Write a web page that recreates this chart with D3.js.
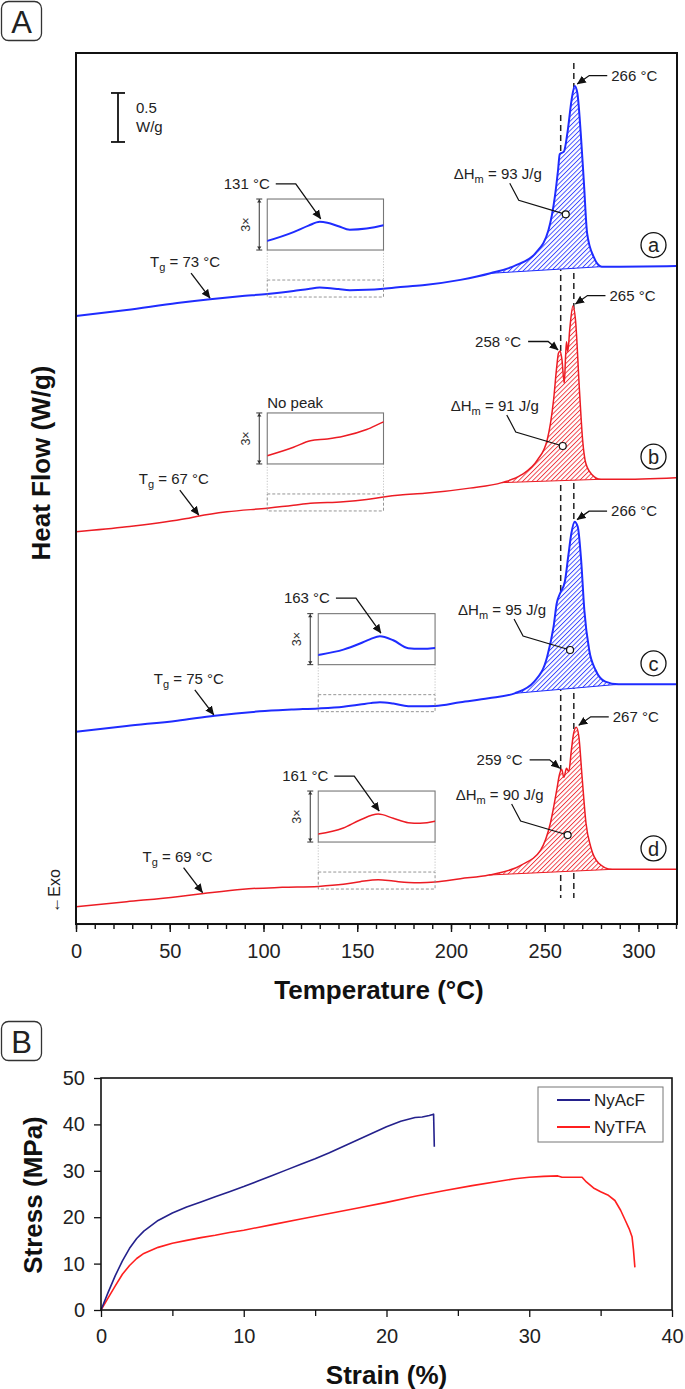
<!DOCTYPE html>
<html><head><meta charset="utf-8">
<script src="https://cdn.jsdelivr.net/npm/d3@7"></script>
<style>body{margin:0;background:#fff}svg{display:block;font-family:"Liberation Sans",Arial,Helvetica,sans-serif}</style>
</head><body><svg id="c" width="685" height="1389"></svg>
<script>
// ---------------- Panel A data (Temperature °C, Heat flow W/g, offset curves) ----------------
const curveA = [[0,6.316],[27,6.378],[54,6.449],[71.5,6.488],[87.5,6.518],[102,6.541],[116,6.571],[124,6.593],[130,6.606],[134,6.603],[140,6.591],[146,6.579],[155,6.583],[164,6.594],[175,6.615],[186,6.633],[205,6.685],[221,6.752],[235,6.837],[245,6.956],[252,7.194],[255.4,7.534],[257.1,7.806],[258,7.969],[260.2,7.993],[262.3,8.214],[264.3,8.520],[266,8.663],[267.4,8.589],[269.2,8.18],[270.9,7.670],[272.6,7.16],[276.1,6.92],[280.4,6.82],[290,6.82],[320,6.826]];
const curveB = [[0,4.115],[27,4.166],[59,4.250],[65,4.273],[80.5,4.318],[102,4.355],[116,4.384],[125,4.406],[134,4.412],[142.6,4.421],[155,4.444],[164,4.47],[173,4.49],[186,4.507],[210,4.56],[227.1,4.616],[237.5,4.694],[246.1,4.847],[251.3,5.051],[254.7,5.459],[256.4,5.799],[257.3,5.936],[258.2,5.959],[259.2,5.867],[260.4,5.630],[261.1,5.901],[261.6,6.054],[262.3,5.952],[263.3,6.173],[265.05,6.418],[266.4,6.276],[268.5,5.561],[270.2,5.051],[271.9,4.813],[275.4,4.694],[279.7,4.650],[289,4.650],[320,4.667]];
const curveC = [[0,2.074],[27,2.133],[54,2.187],[74,2.238],[98,2.282],[115,2.300],[129.2,2.312],[142.6,2.330],[151.5,2.351],[157,2.366],[162.1,2.376],[169.2,2.362],[177.2,2.335],[183.5,2.333],[191.5,2.336],[205,2.375],[220,2.415],[234,2.466],[244.4,2.585],[251.3,2.840],[254.7,3.146],[256.4,3.385],[258.2,3.487],[260.7,3.605],[262.5,3.860],[264.2,4.099],[265.9,4.218],[267.6,4.166],[269.4,3.827],[271.1,3.316],[273.7,2.908],[277.1,2.704],[282.3,2.585],[289.2,2.558],[320,2.558]];
const curveD = [[0,0.289],[27,0.340],[54,0.391],[68,0.424],[89,0.468],[110,0.486],[129.2,0.496],[142.6,0.517],[151.5,0.544],[161.2,0.564],[169.2,0.550],[177.2,0.535],[183.5,0.533],[191.5,0.540],[205,0.575],[220.2,0.612],[237.5,0.714],[247.8,0.867],[253,1.140],[256.4,1.480],[257.8,1.633],[259,1.691],[260.2,1.609],[261.6,1.701],[262.8,1.667],[264.2,1.888],[265.4,2.058],[266.8,2.119],[268.2,2.023],[269.9,1.615],[272,1.140],[274.5,0.901],[278.8,0.732],[285.7,0.670],[320,0.670]];

const curveLetters = ['a','b','c','d'];
const meltPeakLabels = [266,265,266,267];
const secondPeakLabels = [null,258,null,259];
const enthalpyValues = [93,91,95,90];
const enthalpyMarkT = [261.2,259.6,263.5,262.2];
const enthalpyMarkV = [7.354,4.99,2.908,1.020];
const tgValues = [73,67,75,69];
const coldPeakLabels = [131,null,163,161];
const hatchStartT = [221,227.1,234,220.2];
const hatchEndT = [280.4,279.7,289.2,285.7];
const insetLoT = [102,102,129.2,129.2];
const insetHiT = [164,164,191.5,191.5];
const insetLoV = [6.510,4.327,2.279,0.469];
const refLineT = [258.5,265.5];
const refLineTopV = [8.367,8.898];
const refLineBotV = 0.378;
const tempTicks = [0,50,100,150,200,250,300];
const scaleBarV = [8.592,8.092]; // 0.5 W/g
const scaleBarT = 22.4;

// ---------------- Panel B data (Strain %, Stress MPa) ----------------
const strainAcF = [0,0.5,1,1.5,2,2.5,3,4,5,6,7,8,9,10,11,12,13,14,15,16,17,18,19,20,21,22,22.5,23,23.3,23.35];
const stressAcF = [0,3.8,7.4,10.6,13.3,15.4,17.0,19.3,20.9,22.2,23.3,24.4,25.5,26.6,27.8,29.0,30.2,31.4,32.6,33.9,35.3,36.7,38.1,39.5,40.7,41.5,41.6,41.9,42.2,35.2];
const strainTFA = [0,0.5,1,1.5,2,2.5,3,4,5,6,7,8,9,10,12,14,16,18,20,22,24,26,28,29,30,31,32,32.3,33,33.7,34,34.5,35,35.5,36,36.4,36.7,37,37.2,37.3,37.4];
const stressTFA = [0,2.6,5.2,7.7,9.6,11.1,12.2,13.5,14.4,15.0,15.6,16.1,16.7,17.2,18.4,19.6,20.8,22.0,23.2,24.5,25.7,26.8,27.8,28.3,28.6,28.8,28.9,28.6,28.6,28.6,27.6,26.3,25.5,24.8,23.6,21.5,19.5,17.5,15.8,13.0,9.2];
const strainTicks = [0,10,20,30,40];
const strainMinor = [5,15,25,35];
const stressTicks = [0,10,20,30,40,50];
const seriesNamesB = ['NyAcF','NyTFA'];

// ---------------- drawing ----------------
const BLUE='#1f2cff', RED='#ec1c24', NAVY='#24218c', REDB='#ff1f1f';
const curveColors=[BLUE,RED,BLUE,RED];
const curveWidths=[2,1.5,2,1.5];
const curvesData=[curveA,curveB,curveC,curveD];
const FONT='"Liberation Sans",Arial,Helvetica,sans-serif';

const svg=d3.select('#c');
const defs=svg.append('defs');
defs.append('marker').attr('id','arr').attr('viewBox','0 0 10 10').attr('refX',9.5).attr('refY',5)
  .attr('markerWidth',9).attr('markerHeight',9).attr('markerUnits','userSpaceOnUse').attr('orient','auto')
  .append('path').attr('d','M0,0.5 L10,5 L0,9.5 z').attr('fill','#111');
[['hB',BLUE],['hR',RED]].forEach(([id,c])=>{
  const p=defs.append('pattern').attr('id',id).attr('patternUnits','userSpaceOnUse').attr('width',3.3).attr('height',3.3).attr('patternTransform','rotate(45)');
  p.append('rect').attr('width',3.3).attr('height',3.3).attr('fill','#fff');
  p.append('line').attr('x1',0.5).attr('y1',0).attr('x2',0.5).attr('y2',3.3).attr('stroke',c).attr('stroke-width',0.8);
});

function valueAt(data,t){
  for(let i=1;i<data.length;i++){ if(t<=data[i][0]){const a=data[i-1],b=data[i];return a[1]+(b[1]-a[1])*(t-a[0])/(b[0]-a[0]);} }
  return data[data.length-1][1];
}
function maxIn(data,lo,hi){ let best=null; data.forEach(d=>{ if(d[0]>=lo&&d[0]<=hi&&(!best||d[1]>best[1])) best=d; }); return best; }

// Panel labels
function panelLabel(y,txt){
  svg.append('rect').attr('x',1.5).attr('y',y).attr('width',40).attr('height',39).attr('rx',7).attr('fill','#fff').attr('stroke','#333').attr('stroke-width',1.3);
  svg.append('text').attr('x',21.5).attr('y',y+31).attr('text-anchor','middle').attr('font-size',31).attr('fill','#222').text(txt);
}
panelLabel(1.5,'A');
panelLabel(1021.5,'B');

// ===== Panel A =====
const xA=d3.scaleLinear().domain([0,320]).range([76,676]);
const yA=d3.scaleLinear().domain([0,9]).range([935,53]);
const A=svg.append('g');
const frameBottom=yA(0.112);

refLineT.forEach((t,i)=>{
  A.append('line').attr('x1',xA(t)).attr('x2',xA(t)).attr('y1',yA(refLineTopV[i])).attr('y2',yA(refLineBotV))
   .attr('stroke','#222').attr('stroke-width',1.5).attr('stroke-dasharray','6,4');
});

const lineA=d3.line().x(d=>xA(d[0])).y(d=>yA(d[1])).curve(d3.curveMonotoneX);

curvesData.forEach((data,i)=>{
  const col=curveColors[i];
  const h0=hatchStartT[i],h1=hatchEndT[i];
  const v0=valueAt(data,h0),v1=valueAt(data,h1);
  const base=t=>v0+(v1-v0)*(t-h0)/(h1-h0);
  const sub=data.filter(d=>d[0]>=h0&&d[0]<=h1);
  const area=d3.area().x(d=>xA(d[0])).y0(d=>yA(base(d[0]))).y1(d=>yA(d[1])).curve(d3.curveMonotoneX);
  A.append('path').attr('d',area(sub)).attr('fill','#fff');
  A.append('path').attr('d',area(sub)).attr('fill',`url(#${col===BLUE?'hB':'hR'})`);
  A.append('line').attr('x1',xA(h0)).attr('y1',yA(v0)).attr('x2',xA(h1)).attr('y2',yA(v1)).attr('stroke',col).attr('stroke-width',1);
  A.append('path').attr('d',lineA(data)).attr('fill','none').attr('stroke',col).attr('stroke-width',curveWidths[i]).attr('stroke-linejoin','round');

  // ---- inset ----
  const lo=insetLoT[i],hi=insetHiT[i],vlo=insetLoV[i];
  const boxH=17;
  const x0=xA(lo),x1=xA(hi);
  const dBot=yA(vlo),dTop=dBot-boxH;
  const iBot=dTop-30,iTop=iBot-boxH*3;
  A.append('rect').attr('x',x0).attr('y',dTop).attr('width',x1-x0).attr('height',boxH).attr('fill','none').attr('stroke','#8a8a8a').attr('stroke-width',0.9).attr('stroke-dasharray','3,2');
  [x0,x1].forEach(x=>A.append('line').attr('x1',x).attr('x2',x).attr('y1',iBot).attr('y2',dTop).attr('stroke','#b5b5b5').attr('stroke-width',0.8).attr('stroke-dasharray','1.2,1.6'));
  A.append('rect').attr('x',x0).attr('y',iTop).attr('width',x1-x0).attr('height',iBot-iTop).attr('fill','#fff').attr('stroke','#777').attr('stroke-width',1.1);
  const yI=d3.scaleLinear().domain([vlo,vlo+boxH/98]).range([iBot,iBot-boxH*3]);
  const cid='clip'+i;
  defs.append('clipPath').attr('id',cid).append('rect').attr('x',x0).attr('y',iTop).attr('width',x1-x0).attr('height',iBot-iTop);
  const lineI=d3.line().x(d=>xA(d[0])).y(d=>yI(d[1])).curve(d3.curveMonotoneX);
  A.append('path').attr('d',lineI(data.filter(d=>d[0]>=lo-20&&d[0]<=hi+20))).attr('clip-path',`url(#${cid})`)
    .attr('fill','none').attr('stroke',col).attr('stroke-width',curveWidths[i]);
  const bx=x0-8;
  A.append('line').attr('x1',bx).attr('x2',bx).attr('y1',iTop).attr('y2',iBot).attr('stroke','#333').attr('stroke-width',1);
  [iTop,iBot].forEach((y,k)=>{
    A.append('line').attr('x1',bx-3).attr('x2',bx+3).attr('y1',y).attr('y2',y).attr('stroke','#333').attr('stroke-width',1);
    const s=k===0?1:-1;
    A.append('path').attr('d',`M${bx-2.2},${y+s*3.5} L${bx},${y+s*0.5} L${bx+2.2},${y+s*3.5} Z`).attr('fill','#333');
  });
  A.append('text').attr('transform',`translate(${bx-9},${(iTop+iBot)/2}) rotate(-90)`).attr('text-anchor','middle')
    .attr('font-size',12.5).attr('fill','#333').text('3×');
  if(coldPeakLabels[i]!==null){
    const pk=maxIn(data,lo,hi);
    const px=xA(pk[0]),py=yI(pk[1]);
    const tip=[px+1,py-3];
    A.append('path').attr('d',`M${px-44},${py-38} L${px-24},${py-38} L${tip[0]},${tip[1]}`).attr('fill','none').attr('stroke','#111').attr('stroke-width',1.3).attr('marker-end','url(#arr)');
    A.append('text').attr('x',px-50).attr('y',py-38).attr('dy','0.35em').attr('text-anchor','end').attr('font-size',15).attr('fill','#222').text(coldPeakLabels[i]+' °C');
  } else {
    A.append('text').attr('x',x0).attr('y',iTop-5).attr('font-size',15).attr('fill','#222').text('No peak');
  }

  // ---- Tg ----
  const tgT=tgValues[i]-1.5;
  const tx=xA(tgT),ty=yA(valueAt(data,tgT))-1;
  A.append('line').attr('x1',tx-19).attr('y1',ty-25).attr('x2',tx).attr('y2',ty).attr('stroke','#111').attr('stroke-width',1.3).attr('marker-end','url(#arr)');
  const tg=A.append('text').attr('x',tx-60).attr('y',ty-31).attr('font-size',15).attr('fill','#222');
  tg.append('tspan').text('T');
  tg.append('tspan').attr('font-size',11).attr('dy',4).text('g');
  tg.append('tspan').attr('dy',-4).text(` = ${tgValues[i]} °C`);

  // ---- main melting peak ----
  const pk=maxIn(data,250,290);
  const mx=xA(pk[0])+2.5,my=yA(pk[1])-2;
  A.append('path').attr('d',`M${mx+30},${my-8.5} L${mx+12},${my-8.5} L${mx},${my}`).attr('fill','none').attr('stroke','#111').attr('stroke-width',1.3).attr('marker-end','url(#arr)');
  A.append('text').attr('x',mx+34).attr('y',my-8.5).attr('dy','0.35em').attr('font-size',15).attr('fill','#222').text(meltPeakLabels[i]+' °C');

  // ---- second peak ----
  if(secondPeakLabels[i]!==null){
    const p2=maxIn(data,secondPeakLabels[i]-1.5,secondPeakLabels[i]+1.5);
    const sx=xA(p2[0])-2,sy=yA(p2[1])-1;
    A.append('path').attr('d',`M${sx-30},${sy-8.5} L${sx-10},${sy-8.5} L${sx},${sy}`).attr('fill','none').attr('stroke','#111').attr('stroke-width',1.3).attr('marker-end','url(#arr)');
    A.append('text').attr('x',sx-37).attr('y',sy-8.5).attr('dy','0.35em').attr('text-anchor','end').attr('font-size',15).attr('fill','#222').text(secondPeakLabels[i]+' °C');
  }

  // ---- enthalpy ----
  const ex=xA(enthalpyMarkT[i]),ey=yA(enthalpyMarkV[i]);
  A.append('path').attr('d',`M${ex-56},${ey-31} L${ex-47},${ey-14} L${ex},${ey}`).attr('fill','none').attr('stroke','#111').attr('stroke-width',1.2);
  A.append('circle').attr('cx',ex).attr('cy',ey).attr('r',3.5).attr('fill','#fff').attr('stroke','#111').attr('stroke-width',1.2);
  const et=A.append('text').attr('x',ex-24).attr('y',ey-35).attr('text-anchor','end').attr('font-size',15).attr('fill','#222');
  et.append('tspan').text('ΔH');
  et.append('tspan').attr('font-size',11).attr('dy',4).text('m');
  et.append('tspan').attr('dy',-4).text(` = ${enthalpyValues[i]} J/g`);

  // ---- letter ----
  const lx=xA(308),ly=yA(data[data.length-1][1])-21;
  A.append('circle').attr('cx',lx).attr('cy',ly).attr('r',12.5).attr('fill','#fff').attr('stroke','#111').attr('stroke-width',1.3);
  A.append('text').attr('x',lx).attr('y',ly).attr('dy','0.36em').attr('text-anchor','middle').attr('font-size',20).attr('fill','#222').text(curveLetters[i]);
});

A.append('rect').attr('x',xA(0)).attr('y',yA(9)).attr('width',xA(320)-xA(0)+1).attr('height',frameBottom-yA(9)).attr('fill','none').attr('stroke','#111').attr('stroke-width',2);
const axMinor=A.append('g').attr('transform',`translate(0,${frameBottom})`).call(d3.axisBottom(xA).tickValues(d3.range(0,321,10)).tickSize(5).tickFormat(''));
const axMajor=A.append('g').attr('transform',`translate(0,${frameBottom})`).call(d3.axisBottom(xA).tickValues(tempTicks).tickSize(8).tickPadding(12));
[axMinor,axMajor].forEach(g=>{g.select('.domain').remove();g.selectAll('line').attr('stroke','#111').attr('stroke-width',1.4);g.attr('font-family',FONT);});
axMajor.selectAll('text').attr('font-size',20).attr('fill','#222');
A.append('text').attr('x',379).attr('y',frameBottom+75).attr('text-anchor','middle').attr('font-size',26).attr('font-weight','bold').attr('fill','#111').text('Temperature (°C)');
A.append('text').attr('transform',`translate(41,463) rotate(-90)`).attr('dy','0.36em').attr('text-anchor','middle').attr('font-size',26).attr('font-weight','bold').attr('fill','#111').text('Heat Flow (W/g)');
A.append('text').attr('transform',`translate(54,891) rotate(-90)`).attr('dy','0.36em').attr('text-anchor','middle').attr('font-size',16).attr('fill','#222').text('←Exo');

const sbx=xA(scaleBarT);
A.append('line').attr('x1',sbx).attr('x2',sbx).attr('y1',yA(scaleBarV[0])).attr('y2',yA(scaleBarV[1])).attr('stroke','#111').attr('stroke-width',1.8);
scaleBarV.forEach(v=>A.append('line').attr('x1',sbx-7).attr('x2',sbx+7).attr('y1',yA(v)).attr('y2',yA(v)).attr('stroke','#111').attr('stroke-width',1.8));
A.append('text').attr('x',sbx+18).attr('y',yA(scaleBarV[0])+20).attr('font-size',15).attr('fill','#222').text('0.5');
A.append('text').attr('x',sbx+18).attr('y',yA(scaleBarV[0])+39).attr('font-size',15).attr('fill','#222').text('W/g');

// ===== Panel B =====
const xB=d3.scaleLinear().domain([0,40]).range([101,672]);
const yB=d3.scaleLinear().domain([0,50]).range([1310,1078]);
const B=svg.append('g');
const lineB=d3.line().x(d=>xB(d[0])).y(d=>yB(d[1]));
B.append('path').attr('d',lineB(d3.zip(strainTFA,stressTFA))).attr('fill','none').attr('stroke',REDB).attr('stroke-width',1.6).attr('stroke-linejoin','round');
B.append('path').attr('d',lineB(d3.zip(strainAcF,stressAcF))).attr('fill','none').attr('stroke',NAVY).attr('stroke-width',1.6).attr('stroke-linejoin','round');
B.append('rect').attr('x',xB(0)).attr('y',yB(50)).attr('width',xB(40)-xB(0)).attr('height',yB(0)-yB(50)).attr('fill','none').attr('stroke','#111').attr('stroke-width',1.6);
const bxMinor=B.append('g').attr('transform',`translate(0,${yB(0)})`).call(d3.axisBottom(xB).tickValues(strainMinor).tickSize(6).tickFormat(''));
const bxMajor=B.append('g').attr('transform',`translate(0,${yB(0)})`).call(d3.axisBottom(xB).tickValues(strainTicks).tickSize(7).tickPadding(12));
const byMajor=B.append('g').attr('transform',`translate(${xB(0)},0)`).call(d3.axisLeft(yB).tickValues(stressTicks).tickSize(7).tickPadding(9));
[bxMinor,bxMajor,byMajor].forEach(g=>{g.select('.domain').remove();g.selectAll('line').attr('stroke','#111').attr('stroke-width',1.3);g.attr('font-family',FONT);g.selectAll('text').attr('font-size',20).attr('fill','#222');});
B.append('text').attr('x',386.5).attr('y',1384).attr('text-anchor','middle').attr('font-size',26).attr('font-weight','bold').attr('fill','#111').text('Strain (%)');
B.append('text').attr('transform',`translate(33,1195) rotate(-90)`).attr('dy','0.36em').attr('text-anchor','middle').attr('font-size',26).attr('font-weight','bold').attr('fill','#111').text('Stress (MPa)');
B.append('rect').attr('x',538).attr('y',1087).attr('width',125).attr('height',55).attr('fill','#fff').attr('stroke','#777').attr('stroke-width',1);
[NAVY,REDB].forEach((c,k)=>{
  const ly=1100+k*27;
  B.append('line').attr('x1',557).attr('x2',590).attr('y1',ly).attr('y2',ly).attr('stroke',c).attr('stroke-width',1.8);
  B.append('text').attr('x',594).attr('y',ly).attr('dy','0.36em').attr('font-size',17).attr('fill','#222').text(seriesNamesB[k]);
});
</script></body></html>
